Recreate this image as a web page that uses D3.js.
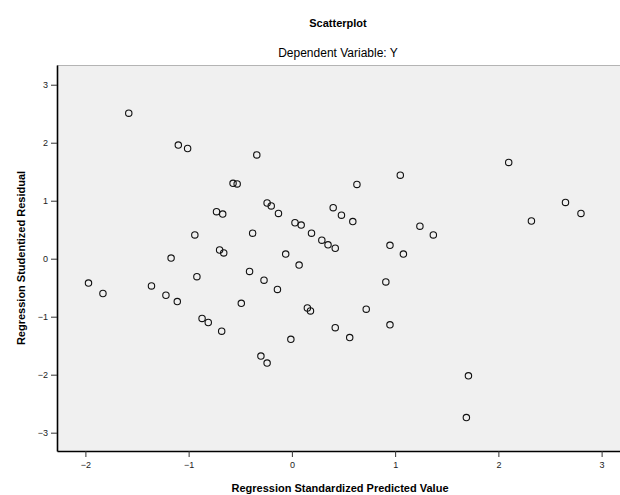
<!DOCTYPE html>
<html>
<head>
<meta charset="utf-8">
<script src="https://cdn.jsdelivr.net/npm/d3@7"></script>
<style>
  html, body { margin: 0; padding: 0; background: #fff; }
  svg { display: block; font-family: "Liberation Sans", Arial, sans-serif; }
</style>
</head>
<body>
<svg id="chart"></svg>
<script>
// 标准化预测值 (x) 和 学生化残差 (y)
const predicted = [
  -1.58, -1.10, -1.01, -0.34, -0.57, -0.53, -0.24, -0.20, -0.13, -0.73,
  -0.67, 0.03, 0.09, 0.19, 0.29, 0.35, 0.42, 0.40, 0.48, 0.59,
  -0.94, -0.38, -0.70, -0.66, -1.17, -0.06, 2.10, 1.05, 0.63, 1.24,
  1.37, 0.95, 1.08, 2.32, 2.65, 2.80, 0.07, -0.41, -0.27, -0.14,
  -0.92, -1.97, -1.83, -1.36, -1.22, -1.11, -0.49, 0.15, 0.18, -0.87,
  -0.81, -0.68, -0.01, 0.42, 0.56, 0.72, 0.91, 0.95, -0.30, -0.24,
  1.71, 1.69
];
const residual = [
  2.51, 1.96, 1.90, 1.79, 1.30, 1.29, 0.96, 0.91, 0.78, 0.81,
  0.77, 0.62, 0.58, 0.44, 0.32, 0.24, 0.18, 0.88, 0.75, 0.64,
  0.41, 0.44, 0.15, 0.10, 0.01, 0.08, 1.66, 1.44, 1.28, 0.56,
  0.41, 0.23, 0.08, 0.65, 0.97, 0.78, -0.11, -0.22, -0.37, -0.53,
  -0.31, -0.42, -0.60, -0.47, -0.63, -0.74, -0.77, -0.85, -0.90, -1.03,
  -1.10, -1.25, -1.39, -1.19, -1.36, -0.87, -0.40, -1.14, -1.68, -1.80,
  -2.02, -2.74
];
const xTicks = [-2, -1, 0, 1, 2, 3];
const yTicks = [-3, -2, -1, 0, 1, 2, 3];

const width = 620, height = 495;
const svg = d3.select("#chart").attr("width", width).attr("height", height);

// 绘图区
const plot = { left: 57, right: 620, top: 65, bottom: 451 };

const x = d3.scaleLinear().domain([-2.275, 3.178]).range([plot.left, plot.right]);
const y = d3.scaleLinear().domain([-3.316, 3.34]).range([plot.bottom, plot.top]);

svg.append("rect")
  .attr("x", plot.left).attr("y", plot.top)
  .attr("width", plot.right - plot.left).attr("height", plot.bottom - plot.top)
  .attr("fill", "#f0f0f0");

svg.append("line")
  .attr("x1", plot.left).attr("x2", plot.right)
  .attr("y1", plot.top + 0.5).attr("y2", plot.top + 0.5)
  .attr("stroke", "#b4b4b4");

// 标题
svg.append("text")
  .attr("x", 338).attr("y", 27)
  .attr("text-anchor", "middle")
  .attr("font-size", 11).attr("font-weight", "bold")
  .text("Scatterplot");

svg.append("text")
  .attr("x", 338).attr("y", 57)
  .attr("text-anchor", "middle")
  .attr("font-size", 12)
  .text("Dependent Variable: Y");

// 坐标轴
const xAxis = svg.append("g")
  .attr("transform", `translate(0,${plot.bottom})`)
  .call(d3.axisBottom(x).tickValues(xTicks).tickFormat(d3.format("d")).tickSize(6).tickSizeOuter(0));

const yAxis = svg.append("g")
  .attr("transform", `translate(${plot.left},0)`)
  .call(d3.axisLeft(y).tickValues(yTicks).tickFormat(d3.format("d")).tickSize(6).tickSizeOuter(0));

[xAxis, yAxis].forEach(a => {
  a.select(".domain").attr("stroke", "#000").attr("stroke-width", 1.6);
  a.selectAll(".tick line").attr("stroke", "#333");
  a.selectAll(".tick text")
    .attr("font-family", "Liberation Sans, Arial, sans-serif")
    .attr("font-size", 9).attr("fill", "#222");
});
xAxis.selectAll(".tick text").attr("dy", "0.9em");

svg.append("text")
  .attr("x", 340).attr("y", 492)
  .attr("text-anchor", "middle")
  .attr("font-size", 11).attr("font-weight", "bold")
  .text("Regression Standardized Predicted Value");

svg.append("text")
  .attr("transform", `translate(25,${(plot.top + plot.bottom) / 2}) rotate(-90)`)
  .attr("text-anchor", "middle")
  .attr("font-size", 11).attr("font-weight", "bold")
  .text("Regression Studentized Residual");

// 散点
const points = predicted.map((p, i) => ({ x: p, y: residual[i] }));
console.log("points:", points.length);

svg.append("g")
  .selectAll("circle")
  .data(points)
  .join("circle")
  .attr("cx", d => x(d.x))
  .attr("cy", d => y(d.y))
  .attr("r", 3.2)
  .attr("fill", "none")
  .attr("stroke", "#111")
  .attr("stroke-width", 1.1);
</script>
</body>
</html>
